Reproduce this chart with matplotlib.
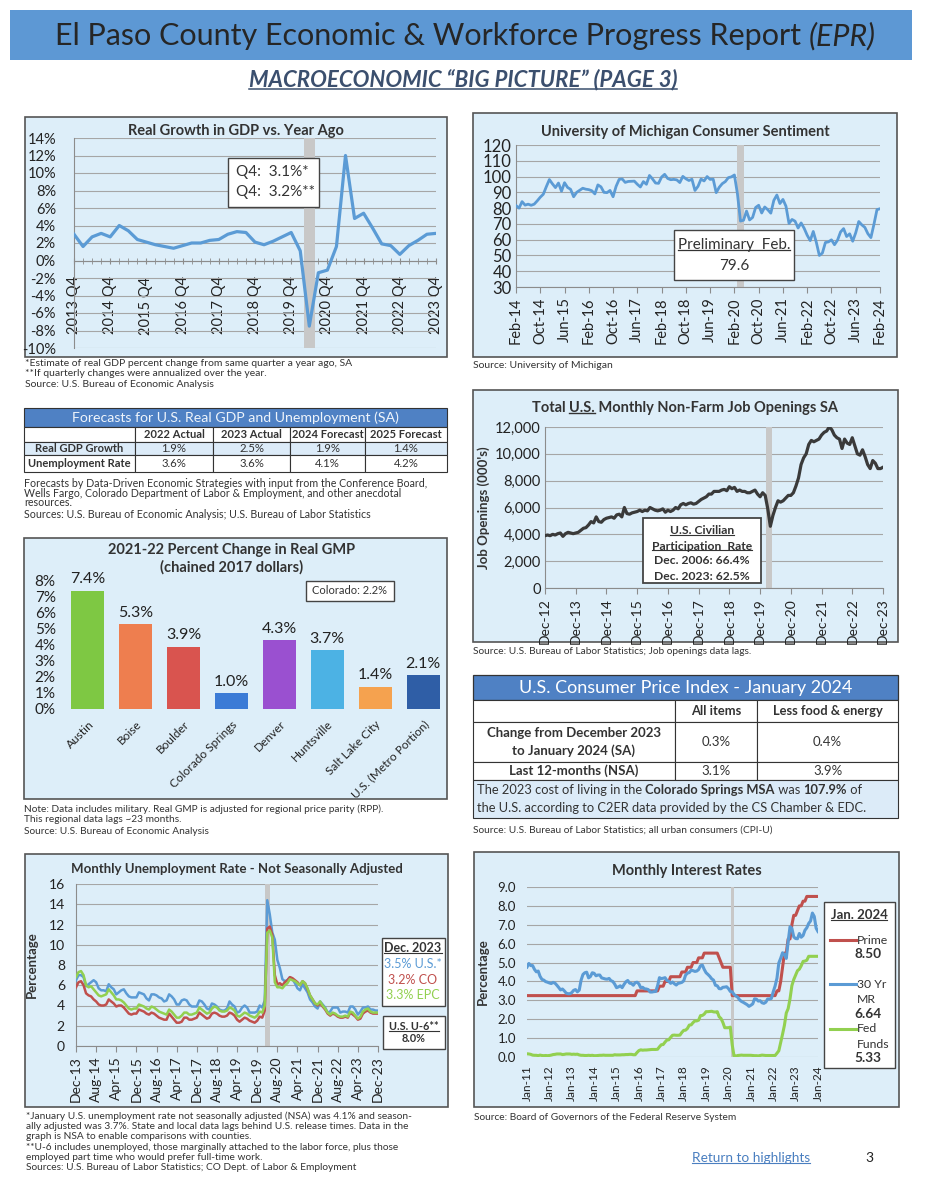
import numpy as np
import matplotlib
matplotlib.use('Agg')
import matplotlib.pyplot as plt
from matplotlib.patches import Rectangle
from matplotlib.lines import Line2D

plt.rcParams['font.family'] = ['Lato', 'DejaVu Sans']

# =============================================================================
# DATA
# =============================================================================
# Real GDP growth vs. year ago, 2013 Q4 .. 2023 Q4 (%)
gdp_ticks = ['2013 Q4', '2014 Q4', '2015 Q4', '2016 Q4', '2017 Q4', '2018 Q4',
             '2019 Q4', '2020 Q4', '2021 Q4', '2022 Q4', '2023 Q4']
gdp_growth = [3.0, 1.6, 2.7, 3.1, 2.7, 4.0, 3.4, 2.4, 2.1, 1.8, 1.6, 1.4,
              1.7, 2.0, 2.0, 2.3, 2.4, 3.0, 3.3, 3.2, 2.1, 1.8, 2.2, 2.7,
              3.2, 1.1, -7.5, -1.4, -1.1, 1.6, 12.0, 4.8, 5.4, 3.7, 1.9, 1.7,
              0.7, 1.7, 2.3, 3.0, 3.1]

# UMich consumer sentiment, Feb-14 .. Feb-24
sent_ticks = ['Feb-14', 'Oct-14', 'Jun-15', 'Feb-16', 'Oct-16', 'Jun-17', 'Feb-18', 'Oct-18',
              'Jun-19', 'Feb-20', 'Oct-20', 'Jun-21', 'Feb-22', 'Oct-22', 'Jun-23', 'Feb-24']
sentiment = [81.6, 80.0, 84.1, 81.9, 82.5, 81.8, 82.5, 84.6, 86.9, 88.8, 93.6,
             98.1, 95.4, 93.0, 95.9, 90.7, 96.1, 93.1, 91.9, 87.2, 90.0, 91.3, 92.6,
             92.0, 91.7, 91.0, 89.0, 94.7, 93.5, 90.0, 89.8, 91.2, 87.2, 93.8, 98.2,
             98.5, 96.3, 96.9, 97.0, 97.1, 95.1, 93.4, 96.8, 95.1, 100.7, 98.5, 95.9,
             95.7, 99.7, 101.4, 98.8, 98.0, 98.2, 97.9, 96.2, 100.1, 98.6, 97.5, 98.3,
             91.2, 93.8, 98.4, 97.2, 100.0, 98.2, 98.4, 89.8, 93.2, 95.5, 96.8, 99.3,
             99.8, 101.0, 89.1, 71.8, 72.3, 78.1, 72.5, 74.1, 80.4, 81.8, 76.9, 80.7,
             79.0, 76.8, 84.9, 88.3, 82.9, 85.5, 81.2, 70.3, 72.8, 71.7, 67.4, 70.6,
             67.2, 62.8, 59.4, 65.2, 58.4, 50.0, 51.5, 58.2, 58.6, 59.9, 56.8, 59.7,
             64.9, 67.0, 62.0, 63.7, 59.0, 64.4, 71.5, 69.4, 67.8, 63.8, 61.3, 69.7,
             79.0, 79.6]

# Forecast table
fc_cols = ['2022 Actual', '2023 Actual', '2024 Forecast', '2025 Forecast']
fc_rows = ['Real GDP Growth', 'Unemployment Rate']
fc_vals = [['1.9%', '2.5%', '1.9%', '1.4%'],
           ['3.6%', '3.6%', '4.1%', '4.2%']]

# Real GMP % change 2021-22
gmp_cities = ['Austin', 'Boise', 'Boulder', 'Colorado Springs', 'Denver',
              'Huntsville', 'Salt Lake City', 'U.S. (Metro Portion)']
gmp_change = [7.4, 5.3, 3.9, 1.0, 4.3, 3.7, 1.4, 2.1]
gmp_colors = ['#7ec843', '#ee7e4f', '#d9544f', '#3b7bd6', '#9a50d0',
              '#4cb2e4', '#f5a24f', '#2f5ea6']

# JOLTS job openings (000's), Dec-12 .. Dec-23
job_ticks = ['Dec-12', 'Dec-13', 'Dec-14', 'Dec-15', 'Dec-16', 'Dec-17',
             'Dec-18', 'Dec-19', 'Dec-20', 'Dec-21', 'Dec-22', 'Dec-23']
job_openings = [3900,
                3950, 3900, 4000, 3950, 4050, 4100, 3850, 4050, 4150, 4100, 4050, 4100,
                4150, 4300, 4450, 4500, 4700, 4950, 4850, 5300, 4950, 4900, 5100, 5200,
                5250, 5300, 5200, 5450, 5500, 5300, 6000, 5550, 5500, 5600, 5650, 5700,
                5800, 5700, 5800, 5750, 6000, 5900, 5800, 5750, 5800, 5900, 5650, 5800,
                5700, 5800, 6000, 5900, 6200, 6300, 6200, 6300, 6350, 6250, 6300, 6450,
                6600, 6700, 6800, 7000, 7000, 7200, 7200, 7200, 7300, 7350, 7250, 7550,
                7400, 7500, 7200, 7300, 7200, 7200, 7100, 7100, 7200, 7300, 7000, 6800,
                7100, 6900, 5900, 4600, 5400, 6000, 6500, 6400, 6500, 6700, 6900, 6900,
                7100, 7600, 8200, 9200, 9700, 10000, 10700, 11000, 10900, 11000, 11100, 11400,
                11600, 11700, 12000, 11800, 11400, 11200, 11100, 10400, 11100, 10800, 10700, 11200,
                10600, 10000, 9900, 10300, 9800, 9200, 8900, 9500, 9300, 8900, 8900, 9000]

# CPI table
cpi_cols = ['All items', 'Less food & energy']
cpi_rows = ['Change from December 2023\nto January 2024 (SA)', 'Last 12-months (NSA)']
cpi_vals = [['0.3%', '0.4%'], ['3.1%', '3.9%']]

# Unemployment rate NSA, Dec-13 .. Dec-23
ur_ticks = ['Dec-13', 'Aug-14', 'Apr-15', 'Dec-15', 'Aug-16', 'Apr-17', 'Dec-17', 'Aug-18',
            'Apr-19', 'Dec-19', 'Aug-20', 'Apr-21', 'Dec-21', 'Aug-22', 'Apr-23', 'Dec-23']
ur_us = [6.5,
         7.0, 7.0, 6.8, 5.9, 6.1, 6.3, 6.5, 6.3, 5.7, 5.5, 5.5, 5.4,
         6.1, 5.8, 5.6, 5.1, 5.3, 5.5, 5.6, 5.2, 4.9, 4.8, 4.8, 4.8,
         5.3, 5.2, 5.1, 4.7, 4.5, 5.1, 5.1, 5.0, 4.8, 4.7, 4.4, 4.5,
         5.1, 4.9, 4.6, 4.1, 4.1, 4.5, 4.6, 4.5, 4.1, 3.9, 3.9, 3.9,
         4.5, 4.4, 4.1, 3.7, 3.6, 4.2, 4.1, 3.9, 3.6, 3.5, 3.5, 3.7,
         4.4, 4.1, 3.9, 3.3, 3.4, 3.8, 4.0, 3.8, 3.3, 3.3, 3.3, 3.4,
         4.0, 3.8, 4.5, 14.4, 13.0, 11.2, 10.5, 8.5, 7.7, 6.6, 6.4, 6.5,
         6.8, 6.6, 6.2, 5.7, 5.5, 6.1, 5.7, 5.3, 4.6, 4.3, 3.9, 3.7,
         4.4, 4.1, 3.8, 3.3, 3.4, 3.8, 3.8, 3.8, 3.3, 3.4, 3.4, 3.3,
         3.9, 3.9, 3.6, 3.1, 3.4, 3.8, 3.8, 3.9, 3.6, 3.6, 3.5, 3.5]
ur_co = [5.8,
         6.3, 6.4, 6.0, 5.2, 5.0, 4.9, 4.6, 4.4, 4.1, 4.0, 4.0, 4.1,
         4.6, 4.4, 4.2, 3.9, 4.0, 4.0, 3.8, 3.5, 3.2, 3.1, 3.2, 3.2,
         3.6, 3.5, 3.4, 3.2, 3.1, 3.3, 3.2, 3.0, 2.8, 2.7, 2.6, 2.6,
         3.2, 2.9, 2.6, 2.3, 2.3, 2.4, 2.8, 2.8, 2.6, 2.6, 2.7, 2.8,
         3.3, 3.1, 2.9, 2.7, 2.8, 3.2, 3.3, 3.2, 3.0, 2.9, 2.9, 3.0,
         3.3, 3.2, 3.0, 2.6, 2.4, 2.6, 2.8, 2.7, 2.5, 2.4, 2.3, 2.5,
         2.9, 2.8, 3.5, 11.6, 11.8, 11.0, 7.0, 6.1, 6.2, 6.0, 6.3, 6.5,
         6.8, 6.7, 6.5, 6.3, 6.0, 6.4, 6.2, 5.6, 5.0, 4.6, 4.2, 4.0,
         4.2, 3.9, 3.6, 3.2, 3.0, 3.2, 3.1, 2.9, 2.8, 2.8, 2.9, 2.8,
         3.3, 3.1, 2.9, 2.6, 2.7, 3.2, 3.4, 3.5, 3.3, 3.2, 3.2, 3.2]
ur_epc = [6.8,
          7.3, 7.4, 7.0, 6.0, 5.8, 5.9, 5.6, 5.3, 5.0, 4.9, 5.0, 5.1,
          5.6, 5.3, 5.0, 4.6, 4.6, 4.5, 4.3, 4.0, 3.7, 3.6, 3.7, 3.7,
          4.1, 4.0, 3.9, 3.7, 3.6, 3.9, 3.8, 3.6, 3.4, 3.3, 3.2, 3.1,
          3.6, 3.4, 3.1, 2.8, 2.8, 3.0, 3.3, 3.3, 3.1, 3.1, 3.2, 3.3,
          3.8, 3.6, 3.4, 3.2, 3.3, 3.7, 3.9, 3.8, 3.5, 3.4, 3.4, 3.5,
          3.8, 3.7, 3.5, 3.0, 2.9, 3.1, 3.3, 3.2, 3.0, 2.9, 2.8, 3.0,
          3.4, 3.3, 4.0, 11.2, 11.4, 10.7, 6.3, 5.8, 5.8, 5.7, 6.0, 6.2,
          6.6, 6.5, 6.4, 6.2, 6.0, 6.4, 6.2, 5.7, 5.0, 4.6, 4.2, 4.1,
          4.4, 4.0, 3.7, 3.3, 3.1, 3.3, 3.2, 3.0, 2.9, 2.9, 3.0, 2.9,
          3.4, 3.3, 3.0, 2.7, 2.9, 3.4, 3.6, 3.7, 3.4, 3.3, 3.3, 3.3]

# Interest rates, Jan-11 .. Jan-24
ir_ticks = ['Jan-11', 'Jan-12', 'Jan-13', 'Jan-14', 'Jan-15', 'Jan-16', 'Jan-17',
            'Jan-18', 'Jan-19', 'Jan-20', 'Jan-21', 'Jan-22', 'Jan-23', 'Jan-24']
prime = [3.25, 3.25, 3.25, 3.25, 3.25, 3.25, 3.25, 3.25, 3.25, 3.25, 3.25, 3.25,
         3.25, 3.25, 3.25, 3.25, 3.25, 3.25, 3.25, 3.25, 3.25, 3.25, 3.25, 3.25,
         3.25, 3.25, 3.25, 3.25, 3.25, 3.25, 3.25, 3.25, 3.25, 3.25, 3.25, 3.25,
         3.25, 3.25, 3.25, 3.25, 3.25, 3.25, 3.25, 3.25, 3.25, 3.25, 3.25, 3.25,
         3.25, 3.25, 3.25, 3.25, 3.25, 3.25, 3.25, 3.25, 3.25, 3.25, 3.25, 3.5,
         3.5, 3.5, 3.5, 3.5, 3.5, 3.5, 3.5, 3.5, 3.5, 3.5, 3.5, 3.75,
         3.75, 3.75, 4.0, 4.0, 4.0, 4.25, 4.25, 4.25, 4.25, 4.25, 4.25, 4.5,
         4.5, 4.5, 4.75, 4.75, 4.75, 5.0, 5.0, 5.0, 5.25, 5.25, 5.25, 5.5,
         5.5, 5.5, 5.5, 5.5, 5.5, 5.5, 5.5, 5.25, 5.0, 4.75, 4.75, 4.75,
         4.75, 4.75, 3.25, 3.25, 3.25, 3.25, 3.25, 3.25, 3.25, 3.25, 3.25, 3.25,
         3.25, 3.25, 3.25, 3.25, 3.25, 3.25, 3.25, 3.25, 3.25, 3.25, 3.25, 3.25,
         3.25, 3.25, 3.5, 3.5, 4.0, 4.75, 5.5, 5.5, 6.25, 6.25, 7.0, 7.5,
         7.5, 7.75, 8.0, 8.0, 8.25, 8.25, 8.5, 8.5, 8.5, 8.5, 8.5, 8.5,
         8.5]
mortgage = [4.76, 4.95, 4.84, 4.84, 4.64, 4.51, 4.55, 4.27, 4.11, 4.07, 3.99, 3.96,
            3.92, 3.89, 3.95, 3.91, 3.80, 3.68, 3.55, 3.60, 3.50, 3.38, 3.35, 3.35,
            3.41, 3.53, 3.57, 3.45, 3.54, 4.07, 4.37, 4.46, 4.49, 4.19, 4.26, 4.46,
            4.43, 4.30, 4.34, 4.34, 4.19, 4.16, 4.13, 4.12, 4.16, 4.04, 4.00, 3.86,
            3.67, 3.71, 3.77, 3.67, 3.84, 3.98, 4.05, 3.91, 3.89, 3.80, 3.94, 3.96,
            3.87, 3.66, 3.69, 3.61, 3.60, 3.57, 3.44, 3.44, 3.46, 3.47, 3.77, 4.20,
            4.15, 4.17, 4.20, 4.05, 4.01, 3.90, 3.97, 3.88, 3.81, 3.90, 3.92, 3.95,
            4.03, 4.33, 4.44, 4.47, 4.59, 4.57, 4.53, 4.55, 4.63, 4.83, 4.87, 4.64,
            4.46, 4.37, 4.27, 4.14, 4.07, 3.80, 3.77, 3.62, 3.61, 3.69, 3.70, 3.72,
            3.62, 3.47, 3.45, 3.31, 3.23, 3.16, 3.02, 2.94, 2.89, 2.83, 2.77, 2.68,
            2.74, 2.81, 3.08, 3.06, 2.96, 2.98, 2.87, 2.84, 2.90, 3.07, 3.07, 3.10,
            3.45, 3.76, 4.17, 4.98, 5.23, 5.52, 5.41, 5.22, 6.11, 6.90, 6.81, 6.36,
            6.27, 6.26, 6.54, 6.34, 6.43, 6.71, 6.84, 7.07, 7.20, 7.62, 7.44, 6.82,
            6.64]
fed_funds = [0.17, 0.16, 0.14, 0.10, 0.09, 0.09, 0.07, 0.10, 0.08, 0.07, 0.08, 0.07,
             0.08, 0.10, 0.13, 0.14, 0.16, 0.16, 0.16, 0.13, 0.14, 0.16, 0.16, 0.16,
             0.14, 0.15, 0.14, 0.15, 0.11, 0.09, 0.09, 0.08, 0.08, 0.09, 0.08, 0.09,
             0.07, 0.07, 0.08, 0.09, 0.09, 0.10, 0.09, 0.09, 0.09, 0.09, 0.09, 0.12,
             0.11, 0.11, 0.11, 0.12, 0.12, 0.13, 0.13, 0.14, 0.14, 0.12, 0.12, 0.24,
             0.34, 0.38, 0.36, 0.37, 0.37, 0.38, 0.39, 0.40, 0.40, 0.40, 0.41, 0.54,
             0.65, 0.66, 0.79, 0.90, 0.91, 1.04, 1.15, 1.16, 1.15, 1.15, 1.16, 1.30,
             1.41, 1.42, 1.51, 1.69, 1.70, 1.82, 1.91, 1.91, 1.95, 2.19, 2.20, 2.27,
             2.40, 2.40, 2.41, 2.42, 2.39, 2.38, 2.40, 2.13, 2.04, 1.83, 1.55, 1.55,
             1.55, 1.58, 0.65, 0.05, 0.05, 0.08, 0.09, 0.10, 0.09, 0.09, 0.09, 0.09,
             0.09, 0.08, 0.07, 0.07, 0.06, 0.08, 0.10, 0.09, 0.08, 0.08, 0.08, 0.08,
             0.08, 0.08, 0.20, 0.33, 0.77, 1.21, 1.68, 2.33, 2.56, 3.08, 3.78, 4.10,
             4.33, 4.57, 4.65, 4.83, 5.06, 5.08, 5.12, 5.33, 5.33, 5.33, 5.33, 5.33,
             5.33]

# =============================================================================
# PAGE SETUP
# =============================================================================
W, H = 927, 1200
fig = plt.figure(figsize=(W / 100, H / 100), dpi=100)
renderer = fig.canvas.get_renderer()

BG = '#ddeef9'
BLUE = '#5b9bd5'
RED = '#c0504d'
GREEN = '#92d050'
GRID = '#a6a6a6'
SHADE = '#c8c8c8'
TXT = '#333333'
HEAD = '#4f81c4'


def add_ax(l, t, r, b):
    ax = fig.add_axes([l / W, 1 - b / H, (r - l) / W, (b - t) / H])
    ax.set_facecolor('none')
    return ax


def box(l, t, r, b, fc=BG, ec='#555555', lw=1.2, z=-1):
    fig.add_artist(Rectangle((l / W, 1 - b / H), (r - l) / W, (b - t) / H,
                             transform=fig.transFigure, facecolor=fc,
                             edgecolor=ec, lw=lw, zorder=z))


def text(x, y, s, size=8, **kw):
    kw.setdefault('color', TXT)
    kw.setdefault('va', 'center')
    return fig.text(x / W, 1 - y / H, s, fontsize=size, **kw)


def underline(t, lw=0.8, off=1.5):
    bb = t.get_window_extent(renderer)
    y = bb.y0 + off
    fig.add_artist(Line2D([bb.x0 / W, bb.x1 / W], [y / H, y / H],
                          transform=fig.transFigure, color=t.get_color(), lw=lw, zorder=5))


def rich(x, y, parts, size, center=False, color=TXT):
    texts, widths = [], []
    for s, kw in parts:
        t = text(0, y, s, size, ha='left', color=color, **kw)
        texts.append(t)
        widths.append(t.get_window_extent(renderer).width)
    x0 = x - sum(widths) / 2 if center else x
    for t, w in zip(texts, widths):
        t.set_x(x0 / W)
        x0 += w
    return texts


def style_line_axes(ax, ylim, yticks, ylabels, ysize, pad=3):
    ax.set_ylim(*ylim)
    ax.set_yticks(yticks)
    ax.set_yticklabels(ylabels)
    ax.yaxis.grid(True, color=GRID, lw=0.8)
    ax.set_axisbelow(True)
    for s in ['top', 'right']:
        ax.spines[s].set_visible(False)
    ax.spines['left'].set_color('#8c8c8c')
    ax.spines['bottom'].set_color('#8c8c8c')
    ax.tick_params(axis='y', length=0, labelsize=ysize, colors='#222222', pad=pad)


# =============================================================================
# HEADER
# =============================================================================
box(10, 10, 912, 60, fc='#5d98d4', ec='none', lw=0)
rich(465, 36, [('El Paso County Economic & Workforce Progress Report ', {}),
               ('(EPR)', {'style': 'italic'})], 22, center=True, color='#262626')
t = text(463, 80, 'MACROECONOMIC \u201cBIG PICTURE\u201d (PAGE 3)', 16, ha='center',
         fontweight='bold', style='italic', color='#3b4f6e')
underline(t, lw=1.1, off=2)

# =============================================================================
# 1. REAL GDP GROWTH
# =============================================================================
box(25, 117, 447, 357)
ax = add_ax(74, 138, 436, 348)
q = np.arange(len(gdp_growth))
ax.axvspan(25.4, 26.6, color=SHADE, zorder=1, lw=0)
ax.plot(q, gdp_growth, color=BLUE, lw=2.3, zorder=3)
ax.set_xlim(0, 40)
style_line_axes(ax, (-10, 14), range(-10, 15, 2),
                [f'{v}%' for v in range(-10, 15, 2)], 10.5, pad=13)
ax.spines['bottom'].set_position(('data', 0))
ax.set_xticks(np.arange(0, 41, 4))
ax.set_xticklabels(gdp_ticks, rotation=90)
ax.set_xticks(q, minor=True)
ax.tick_params(axis='x', which='both', direction='inout', length=5, color='#8c8c8c',
               labelsize=10.5, pad=9, labelcolor='#222222')
text(236, 131, 'Real Growth in GDP vs. Year Ago', 10.5, ha='center', fontweight='bold')
box(228, 158, 319, 207, fc='white', ec='#444444', lw=1.0, z=4)
text(236, 172, 'Q4:  3.1%*', 11, ha='left', zorder=5)
text(236, 192, 'Q4:  3.2%**', 11, ha='left', zorder=5)
text(25, 363, '*Estimate of real GDP percent change from same quarter a year ago, SA', 7.5)
text(25, 373, '**If quarterly changes were annualized over the year.', 7.5)
text(25, 384, 'Source: U.S. Bureau of Economic Analysis', 7.5)

# =============================================================================
# 2. CONSUMER SENTIMENT
# =============================================================================
box(473, 113, 897, 357)
ax = add_ax(516, 145, 880, 287)
m = np.arange(len(sentiment))
ax.axvspan(73, 75, color=SHADE, zorder=1, lw=0)
ax.plot(m, sentiment, color=BLUE, lw=2.0, zorder=3)
ax.set_xlim(0, 120)
style_line_axes(ax, (30, 120), range(30, 121, 10), [str(v) for v in range(30, 121, 10)], 12)
ax.set_xticks(np.arange(0, 121, 8))
ax.set_xticklabels(sent_ticks, rotation=90)
ax.tick_params(axis='x', length=4, color='#8c8c8c', labelsize=10.5, labelcolor='#222222')
text(685, 132, 'University of Michigan Consumer Sentiment', 10.5, ha='center', fontweight='bold')
box(674, 230, 794, 280, fc='white', ec='#444444', lw=1.0, z=4)
t = text(734, 245, 'Preliminary  Feb.', 11, ha='center', zorder=5)
underline(t, lw=0.9, off=1.5)
text(734, 266, '79.6', 11, ha='center', zorder=5)
text(473, 365, 'Source: University of Michigan', 7.5)

# =============================================================================
# 3. FORECAST TABLE
# =============================================================================
fx_edges = [24, 135, 213, 290, 365, 447]
box(24, 408, 447, 427, fc=HEAD, ec='#333333', lw=0.8, z=1)
text(235.5, 418, 'Forecasts for U.S. Real GDP and Unemployment (SA)', 10.2,
     ha='center', color='#eef4fb')
row_edges = [(427, 442, 'white'), (442, 455, '#dcebf8'), (455, 472, 'white')]
for ri, (top, bot, fc) in enumerate(row_edges):
    for ci in range(5):
        box(fx_edges[ci], top, fx_edges[ci + 1], bot, fc=fc, ec='#333333', lw=0.8, z=1)
        xc = (fx_edges[ci] + fx_edges[ci + 1]) / 2
        yc = (top + bot) / 2
        if ri == 0 and ci > 0:
            text(xc, yc, fc_cols[ci - 1], 8, ha='center', fontweight='bold')
        elif ri > 0 and ci == 0:
            text(xc, yc, fc_rows[ri - 1], 8, ha='center', fontweight='bold')
        elif ri > 0:
            text(xc, yc, fc_vals[ri - 1][ci - 1], 8.2, ha='center')
text(24, 483, 'Forecasts by Data-Driven Economic Strategies with input from the Conference Board,', 7.7)
text(24, 493, 'Wells Fargo, Colorado Department of Labor & Employment, and other anecdotal', 7.7)
text(24, 503, 'resources.', 7.7)
text(24, 514, 'Sources: U.S. Bureau of Economic Analysis; U.S. Bureau of Labor Statistics', 7.7)

# =============================================================================
# 4. REAL GMP BAR CHART
# =============================================================================
box(24, 538, 447, 799)
ax = add_ax(64, 581, 447, 709)
xb = np.arange(len(gmp_change))
bars = ax.bar(xb, gmp_change, width=0.69, color=gmp_colors)
ax.bar_label(bars, labels=[f'{v:.1f}%' for v in gmp_change], padding=3, fontsize=11.5,
             color='#222222')
ax.set_xlim(-0.5, 7.5)
ax.set_ylim(0, 8)
ax.set_yticks(range(0, 9))
ax.set_yticklabels([f'{v}%' for v in range(0, 9)])
for s in ax.spines.values():
    s.set_visible(False)
ax.tick_params(axis='y', length=0, labelsize=11, labelcolor='#222222', pad=6)
ax.set_xticks(xb)
ax.set_xticklabels(gmp_cities, rotation=45, ha='right', rotation_mode='anchor')
ax.tick_params(axis='x', length=0, labelsize=8.6, labelcolor='#222222', pad=7)
text(232, 550, '2021-22 Percent Change in Real GMP', 10.5, ha='center', fontweight='bold')
text(232, 567, '(chained 2017 dollars)', 10.5, ha='center', fontweight='bold')
box(306, 581, 394, 601, fc='white', ec='#444444', lw=1.0, z=4)
text(350, 591, 'Colorado: 2.2%', 8, ha='center', zorder=5)
text(24, 809, 'Note: Data includes military. Real GMP is adjusted for regional price parity (RPP).', 7.3)
text(24, 820, 'This regional data lags ~23 months.', 7.3)
text(24, 831, 'Source: U.S. Bureau of Economic Analysis', 7.3)

# =============================================================================
# 5. JOB OPENINGS
# =============================================================================
box(473, 390, 898, 642)
ax = add_ax(545, 427, 883, 588)
mj = np.arange(len(job_openings))
ax.axvspan(86.5, 88.7, color=SHADE, zorder=1, lw=0)
ax.plot(mj, job_openings, color='#3a3a3a', lw=2.3, zorder=3)
ax.set_xlim(0, 132)
style_line_axes(ax, (0, 12000), range(0, 12001, 2000),
                [f'{v:,}' for v in range(0, 12001, 2000)], 10.5)
ax.set_xticks(np.arange(0, 133, 12))
ax.set_xticklabels(job_ticks, rotation=90)
ax.tick_params(axis='x', length=4, color='#8c8c8c', labelsize=10, labelcolor='#222222')
ax.set_ylabel("Job Openings (000's)", fontsize=9.5, fontweight='bold', color=TXT, labelpad=4)
rich(685, 408, [('Total ', {'fontweight': 'bold'}), ('U.S.', {'fontweight': 'bold'}),
                (' Monthly Non-Farm Job Openings SA', {'fontweight': 'bold'})], 10.5, center=True)
underline(fig.texts[-2], lw=1.0, off=2)
box(643, 518, 761, 583, fc='white', ec='#444444', lw=1.3, z=4)
t = text(702, 531, 'U.S. Civilian', 8.7, ha='center', fontweight='bold', zorder=5)
underline(t, lw=0.8, off=1.5)
t = text(702, 546, 'Participation  Rate', 8.7, ha='center', fontweight='bold', zorder=5)
underline(t, lw=0.8, off=1.5)
text(702, 561, 'Dec. 2006: 66.4%', 8.7, ha='center', fontweight='bold', zorder=5)
text(702, 576, 'Dec. 2023: 62.5%', 8.7, ha='center', fontweight='bold', zorder=5)
text(473, 652, 'Source: U.S. Bureau of Labor Statistics; Job openings data lags.', 7.3)

# =============================================================================
# 6. CPI TABLE
# =============================================================================
cx_edges = [473, 675, 757, 898]
box(473, 675, 898, 700, fc=HEAD, ec='#333333', lw=0.9, z=1)
text(685.5, 688, 'U.S. Consumer Price Index - January 2024', 13, ha='center', color='white')
cpi_row_edges = [(700, 722), (722, 762), (762, 780)]
for ri, (top, bot) in enumerate(cpi_row_edges):
    for ci in range(3):
        box(cx_edges[ci], top, cx_edges[ci + 1], bot, fc='white', ec='#333333', lw=0.8, z=1)
        xc = (cx_edges[ci] + cx_edges[ci + 1]) / 2
        yc = (top + bot) / 2
        if ri == 0 and ci > 0:
            text(xc, yc, cpi_cols[ci - 1], 9.3, ha='center', fontweight='bold')
        elif ri > 0 and ci == 0:
            text(xc, yc, cpi_rows[ri - 1], 9.5, ha='center', fontweight='bold',
                 linespacing=1.5)
        elif ri > 0:
            text(xc, yc, cpi_vals[ri - 1][ci - 1], 9.5, ha='center')
box(473, 780, 898, 818, fc='#dcebf8', ec='#333333', lw=0.8, z=1)
rich(477, 790, [('The 2023 cost of living in the ', {}),
                ('Colorado Springs MSA', {'fontweight': 'bold'}),
                (' was ', {}), ('107.9%', {'fontweight': 'bold'}), (' of', {})], 9.3)
text(477, 808, 'the U.S. according to C2ER data provided by the CS Chamber & EDC.', 9.3)
text(473, 830, 'Source: U.S. Bureau of Labor Statistics; all urban consumers (CPI-U)', 7.3)

# =============================================================================
# 7. UNEMPLOYMENT RATE
# =============================================================================
box(25, 854, 448, 1107)
ax = add_ax(76, 884, 378, 1046)
mu = np.arange(len(ur_us))
ax.axvspan(75, 77, color=SHADE, zorder=1, lw=0)
ax.plot(mu, ur_us, color=BLUE, lw=1.8, zorder=3)
ax.plot(mu, ur_co, color=RED, lw=1.8, zorder=3)
ax.plot(mu, ur_epc, color=GREEN, lw=1.8, zorder=3)
ax.set_xlim(0, 120)
style_line_axes(ax, (0, 16), range(0, 17, 2), [str(v) for v in range(0, 17, 2)], 10, pad=8)
ax.set_xticks(np.arange(0, 121, 8))
ax.set_xticklabels(ur_ticks, rotation=90)
ax.tick_params(axis='x', length=4, color='#8c8c8c', labelsize=10, labelcolor='#222222')
ax.set_ylabel('Percentage', fontsize=9.5, fontweight='bold', color=TXT, labelpad=8)
text(237, 869, 'Monthly Unemployment Rate - Not Seasonally Adjusted', 9.5, ha='center',
     fontweight='bold')
box(382, 938, 445, 1006, fc='white', ec='#444444', lw=1.0, z=4)
t = text(413, 948, 'Dec. 2023', 9, ha='center', fontweight='bold', zorder=5)
underline(t, lw=0.8, off=1.5)
text(413, 964, '3.5% U.S.*', 9, ha='center', color=BLUE, zorder=5)
text(413, 980, '3.2% CO', 9, ha='center', color=RED, zorder=5)
text(413, 995, '3.3% EPC', 9, ha='center', color=GREEN, zorder=5)
box(383, 1016, 445, 1049, fc='white', ec='#444444', lw=1.0, z=4)
t = text(414, 1027, 'U.S. U-6**', 7.8, ha='center', fontweight='bold', zorder=5)
underline(t, lw=0.8, off=1.5)
text(414, 1039, '8.0%', 7.8, ha='center', fontweight='bold', zorder=5)
notes = ['*January U.S. unemployment rate not seasonally adjusted (NSA) was 4.1% and season-',
         'ally adjusted was 3.7%. State and local data lags behind U.S. release times. Data in the',
         'graph is NSA to enable comparisons with counties.',
         '**U-6 includes unemployed, those marginally attached to the labor force, plus those',
         'employed part time who would prefer full-time work.',
         'Sources: U.S. Bureau of Labor Statistics; CO Dept. of Labor & Employment']
for i, s in enumerate(notes):
    text(26, 1116 + i * 10.4, s, 7.3)

# =============================================================================
# 8. INTEREST RATES
# =============================================================================
box(474, 852, 899, 1107)
ax = add_ax(527, 887, 818, 1057)
mi = np.arange(len(prime))
ax.axvspan(109.2, 111, color=SHADE, zorder=1, lw=0)
ax.plot(mi, prime, color=RED, lw=2.2, zorder=3)
ax.plot(mi, mortgage, color=BLUE, lw=2.2, zorder=3)
ax.plot(mi, fed_funds, color=GREEN, lw=2.2, zorder=3)
ax.set_xlim(0, 156)
style_line_axes(ax, (0, 9), range(0, 10), [f'{v:.1f}' for v in range(0, 10)], 9.5, pad=8)
ax.spines['left'].set_visible(False)
ax.spines['bottom'].set_visible(False)
ax.set_xticks(np.arange(0, 157, 12))
ax.set_xticklabels(ir_ticks, rotation=90)
ax.tick_params(axis='x', length=0, labelsize=8.5, labelcolor='#222222', pad=6)
ax.set_ylabel('Percentage', fontsize=9.5, fontweight='bold', color=TXT, labelpad=6)
text(687, 871, 'Monthly Interest Rates', 10.5, ha='center', fontweight='bold')
box(824, 902, 895, 1068, fc='white', ec='#444444', lw=1.0, z=4)
t = text(859, 915, 'Jan. 2024', 9.5, ha='center', fontweight='bold', zorder=5)
underline(t, lw=0.8, off=1.5)
legend_items = [(RED, 940, ['Prime'], '8.50', 954),
                (BLUE, 984, ['30 Yr', 'MR'], '6.64', 1014),
                (GREEN, 1029, ['Fed', 'Funds'], '5.33', 1058)]
for col, ly, labs, val, vy in legend_items:
    fig.add_artist(Line2D([830 / W, 856 / W], [1 - ly / H, 1 - ly / H],
                          transform=fig.transFigure, color=col, lw=2.2, zorder=5))
    for k, lab in enumerate(labs):
        text(857, ly + k * 15.5, lab, 8.8, ha='left', zorder=5)
    text(868, vy, val, 9.8, ha='center', fontweight='bold', zorder=5)
text(474, 1118, 'Source: Board of Governors of the Federal Reserve System', 7.3)
t = text(692, 1158, 'Return to highlights', 9.8, ha='left', color='#4a7fc0')
underline(t, lw=0.8, off=1.5)
text(865, 1158, '3', 10, ha='left', color='#222222')

fig.savefig('out.png', dpi=100)
